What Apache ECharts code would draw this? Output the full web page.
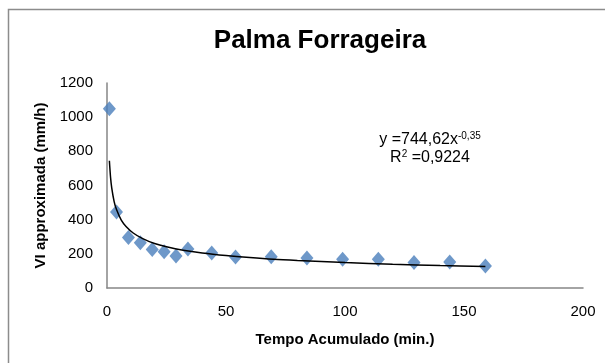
<!DOCTYPE html>
<html>
<head>
<meta charset="utf-8">
<script src="https://cdn.jsdelivr.net/npm/echarts@6/dist/echarts.min.js"></script>
<style>
  html, body { margin: 0; padding: 0; background: #fff; }
  #chart { width: 605px; height: 363px; }
</style>
</head>
<body>
<div id="chart"></div>
<script>
// tempo acumulado (min) e VI observada (mm/h)
const tempo = [1, 4, 9, 14, 19, 24, 29, 34, 44, 54, 69, 84, 99, 114, 129, 144, 159];
const viObs = [1050, 445, 295, 265, 226, 212, 187, 228, 205, 181, 183, 176, 168, 168, 150, 152, 129];

// curva de tendência (potência)
const trendX = [1, 1.5, 2, 3, 4, 6, 8, 11, 15, 20, 25, 32, 40, 50, 60, 70, 80, 100, 120, 140, 159];
const trendY = [745, 647, 584, 506, 459, 397, 360, 322, 289, 260, 241, 221, 205, 190, 178, 168, 161, 149, 139, 131, 126];

const xTicks = [0, 50, 100, 150, 200];
const yTicks = [0, 200, 400, 600, 800, 1000, 1200];

const chart = echarts.init(document.getElementById('chart'));

const axisGray = '#868686';
const font = 'Liberation Sans';

const option = {
  animation: false,
  textStyle: { fontFamily: font },
  title: {
    text: 'Palma Forrageira',
    left: 315,
    top: 23,
    textAlign: 'center',
    textStyle: { fontFamily: font, fontWeight: 'bold', fontSize: 26, color: '#000' }
  },
  graphic: [
    {
      type: 'rect',
      shape: { x: 8.5, y: 9.5, width: 700, height: 400 },
      style: { fill: 'none', stroke: '#8c8c8c', lineWidth: 1.5 },
      silent: true
    },
    {
      type: 'text',
      x: 430,
      y: 131,
      style: {
        text: '{m|y =744,62x}{s|-0,35}\n{m|R}{s|2}{m| =0,9224}',
        align: 'center',
        verticalAlign: 'top',
        rich: {
          m: { fontFamily: font, fontSize: 16, color: '#000', lineHeight: 18 },
          s: { fontFamily: font, fontSize: 10, color: '#000', lineHeight: 10, verticalAlign: 'top' }
        }
      }
    }
  ],
  grid: { left: 107, right: 22, top: 83, bottom: 75 },
  xAxis: {
    type: 'value',
    min: xTicks[0],
    max: xTicks[xTicks.length - 1],
    interval: 50,
    name: 'Tempo Acumulado (min.)',
    nameLocation: 'middle',
    nameGap: 44,
    nameTextStyle: { fontFamily: font, fontWeight: 'bold', fontSize: 15, color: '#000' },
    axisLine: { show: true, lineStyle: { color: axisGray, width: 1.5 } },
    axisTick: { show: false },
    splitLine: { show: false },
    axisLabel: { fontFamily: font, fontSize: 15, color: '#000', margin: 16, formatter: v => String(v) }
  },
  yAxis: {
    type: 'value',
    min: yTicks[0],
    max: yTicks[yTicks.length - 1],
    interval: 200,
    name: 'VI approximada (mm/h)',
    nameLocation: 'middle',
    nameGap: 52,
    nameRotate: 90,
    nameTextStyle: { fontFamily: font, fontWeight: 'bold', fontSize: 15, color: '#000' },
    axisLine: { show: true, lineStyle: { color: axisGray, width: 1.5 } },
    axisTick: { show: false },
    splitLine: { show: false },
    axisLabel: { fontFamily: font, fontSize: 15, color: '#000', margin: 14, formatter: v => String(v) }
  },
  series: [
    {
      name: 'tendência',
      type: 'line',
      data: trendX.map((x, i) => [x, trendY[i]]),
      smooth: 0.3,
      symbol: 'none',
      lineStyle: { color: '#000', width: 1.5 },
      z: 3
    },
    {
      name: 'VI',
      type: 'scatter',
      data: tempo.map((t, i) => [t, viObs[i]]),
      symbol: 'diamond',
      symbolSize: [13, 15],
      itemStyle: { color: '#4a7ebb' },
      z: 2
    }
  ]
};

chart.setOption(option);
</script>
</body>
</html>
